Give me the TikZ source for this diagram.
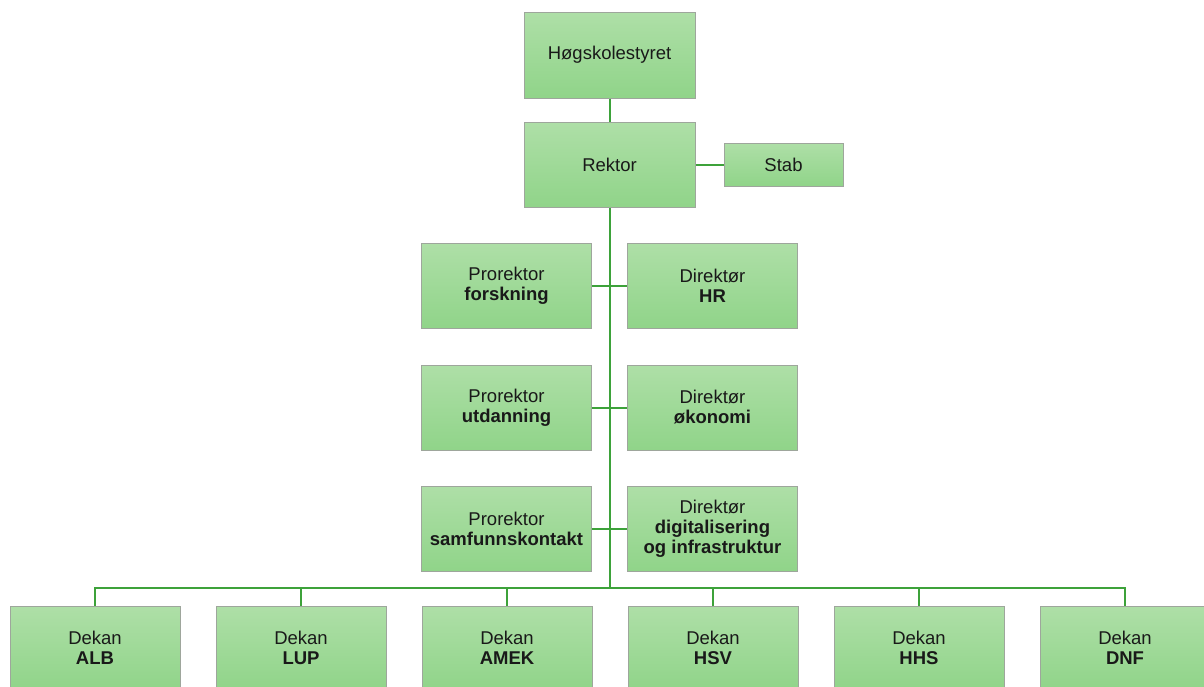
\documentclass[tikz,border=0pt]{standalone}
\usepackage{fontspec}
\setmainfont{Liberation Sans}
\definecolor{linegreen}{HTML}{3DA23A}
\definecolor{boxtop}{HTML}{AEDFA7}
\definecolor{boxbot}{HTML}{90D489}
\definecolor{boxedge}{HTML}{9EA69C}
\tikzset{
  orgbox/.style={draw=boxedge, line width=1pt, top color=boxtop, bottom color=boxbot,
    minimum width=170pt, minimum height=85pt, align=center, inner sep=2pt,
    font=\fontsize{18.5}{20}\selectfont, text=black!90},
  link/.style={draw=linegreen, line width=2pt}
}
\begin{document}
\begin{tikzpicture}[x=1pt,y=-1pt]
\useasboundingbox (0,0) rectangle (1204,686);
\node[orgbox, minimum width=171pt, minimum height=86pt] (hs) at (609.5,55) {Høgskolestyret};
\node[orgbox, minimum width=171pt] (rek) at (609.5,164.5) {Rektor};
\node[orgbox, minimum width=119pt, minimum height=43pt] (stab) at (783.5,164.5) {Stab};
\node[orgbox] (pf) at (506.5,285.5) {Prorektor\\\textbf{forskning}};
\node[orgbox] (dh) at (712.5,285.5) {Direktør\\\textbf{HR}};
\node[orgbox] (pu) at (506.5,407.5) {Prorektor\\\textbf{utdanning}};
\node[orgbox] (do) at (712.5,407.5) {Direktør\\\textbf{økonomi}};
\node[orgbox] (ps) at (506.5,528.5) {Prorektor\\\textbf{samfunnskontakt}};
\node[orgbox] (dd) at (712.5,528.5) {Direktør\\\textbf{digitalisering}\\\textbf{og infrastruktur}};
\node[orgbox, minimum height=84pt] (d1) at (95,648) {Dekan\\\textbf{ALB}};
\node[orgbox, minimum height=84pt] (d2) at (301,648) {Dekan\\\textbf{LUP}};
\node[orgbox, minimum height=84pt] (d3) at (507,648) {Dekan\\\textbf{AMEK}};
\node[orgbox, minimum height=84pt] (d4) at (713,648) {Dekan\\\textbf{HSV}};
\node[orgbox, minimum height=84pt] (d5) at (919,648) {Dekan\\\textbf{HHS}};
\node[orgbox, minimum height=84pt] (d6) at (1125,648) {Dekan\\\textbf{DNF}};
\coordinate (bus) at (609.5,588);
\draw[link] (hs.south) -- (rek.north);
\draw[link] (rek.east) -- (stab.west);
\draw[link] (rek.south) -- (bus);
\draw[link] (pf.east) -- (dh.west);
\draw[link] (pu.east) -- (do.west);
\draw[link] (ps.east) -- (dd.west);
\draw[link] (d1.north) |- (bus) -| (d6.north);
\foreach \d in {d2,d3,d4,d5} \draw[link] (\d.north) -- (\d.north |- bus);
\end{tikzpicture}
\end{document}
